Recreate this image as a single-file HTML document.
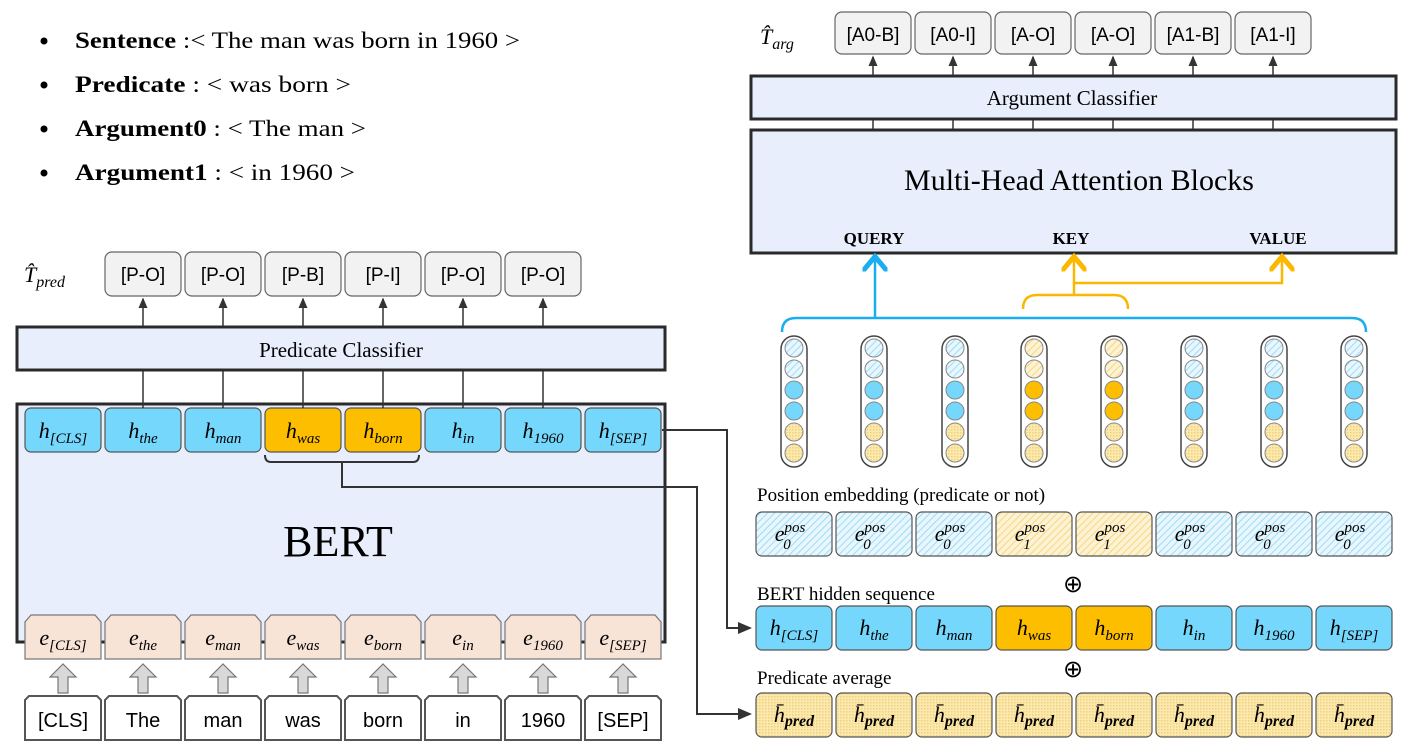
<!DOCTYPE html>
<html><head><meta charset="utf-8"><style>
html,body{margin:0;padding:0;background:#fff;}
svg{display:block;font-family:"Liberation Serif",serif;}
.ital{font-style:italic;}
</style></head><body>
<svg id="s" width="1416" height="751" viewBox="0 0 1416 751" xmlns="http://www.w3.org/2000/svg">
<defs>
<pattern id="hb" width="5" height="5" patternUnits="userSpaceOnUse" patternTransform="rotate(45)"><rect width="5" height="5" fill="#e8f6fd"/><line x1="0" y1="0" x2="0" y2="5" stroke="#9fdcf5" stroke-width="2"/></pattern>
<pattern id="hy" width="5" height="5" patternUnits="userSpaceOnUse" patternTransform="rotate(45)"><rect width="5" height="5" fill="#fdf3d4"/><line x1="0" y1="0" x2="0" y2="5" stroke="#f5d77e" stroke-width="2"/></pattern>
<pattern id="dy" width="3" height="3" patternUnits="userSpaceOnUse"><rect width="3" height="3" fill="#fbe9b0"/><rect width="1.5" height="1.5" fill="#f1d17a"/></pattern>
<marker id="ak" markerWidth="8" markerHeight="8" refX="6" refY="4" orient="auto"><path d="M0,1 L7,4 L0,7 z" fill="#333"/></marker>
<marker id="ab" markerWidth="10" markerHeight="10" refX="5" refY="5" orient="auto"><path d="M0,0 L6,5 L0,10" fill="none" stroke="#1aaef0" stroke-width="2"/></marker>
<marker id="ay" markerWidth="10" markerHeight="10" refX="5" refY="5" orient="auto"><path d="M0,0 L6,5 L0,10" fill="none" stroke="#fbb800" stroke-width="2"/></marker>
</defs>

<g font-size="23">
<circle cx="44" cy="41" r="3.5" fill="#000"/><text x="75" y="48" textLength="445" lengthAdjust="spacingAndGlyphs"><tspan font-weight="bold">Sentence</tspan> :&lt; The man was born in 1960 &gt;</text>
<circle cx="44" cy="85" r="3.5" fill="#000"/><text x="75" y="92" textLength="276" lengthAdjust="spacingAndGlyphs"><tspan font-weight="bold">Predicate</tspan> : &lt; was born &gt;</text>
<circle cx="44" cy="129" r="3.5" fill="#000"/><text x="75" y="136" textLength="291" lengthAdjust="spacingAndGlyphs"><tspan font-weight="bold">Argument0</tspan> : &lt; The man &gt;</text>
<circle cx="44" cy="173" r="3.5" fill="#000"/><text x="75" y="180" textLength="280" lengthAdjust="spacingAndGlyphs"><tspan font-weight="bold">Argument1</tspan> : &lt; in 1960 &gt;</text>
</g>

<!-- Left side -->
<text x="24" y="282" font-size="22" class="ital">T̂<tspan font-size="16" dy="5">pred</tspan></text>
<rect x="17" y="327" width="648" height="43" fill="#e8eefb" stroke="#2a2a2a" stroke-width="3"/>
<text x="341" y="357" font-size="21" text-anchor="middle">Predicate Classifier</text>
<rect x="17" y="404" width="648" height="238" fill="#e8eefb" stroke="#2a2a2a" stroke-width="3"/>
<text x="338" y="556" font-size="44" text-anchor="middle">BERT</text>
<g id="left"></g>
<path d="M265,455 q0,7 6,7 L413,462 q6,0 6,-7" fill="none" stroke="#333" stroke-width="2"/>
<path d="M342,462 L342,487 L697,487 L697,714 L750,714" fill="none" stroke="#333" stroke-width="2" marker-end="url(#ak)"/>
<path d="M662,430 L727,430 L727,628 L750,628" fill="none" stroke="#333" stroke-width="2" marker-end="url(#ak)"/>

<!-- Right side -->
<text x="760" y="44" font-size="22" class="ital">T̂<tspan font-size="16" dy="5">arg</tspan></text>
<rect x="751" y="76" width="645" height="43" fill="#e8eefb" stroke="#2a2a2a" stroke-width="3"/>
<text x="1072" y="105" font-size="21" text-anchor="middle">Argument Classifier</text>
<rect x="751" y="130" width="645" height="123" fill="#e8eefb" stroke="#2a2a2a" stroke-width="3"/>
<text x="1079" y="190" font-size="30" text-anchor="middle">Multi-Head Attention Blocks</text>
<text x="874" y="244" font-size="17" font-weight="bold" text-anchor="middle">QUERY</text>
<text x="1071" y="244" font-size="17" font-weight="bold" text-anchor="middle">KEY</text>
<text x="1278" y="244" font-size="17" font-weight="bold" text-anchor="middle">VALUE</text>
<path d="M782,332 q0,-14 14,-14 L1352,318 q14,0 14,14" fill="none" stroke="#1aaef0" stroke-width="2.5"/>
<path d="M875,318 L875,259" fill="none" stroke="#1aaef0" stroke-width="2.5" marker-end="url(#ab)"/>
<path d="M1023,309 q0,-14 14,-14 L1114,295 q14,0 14,14" fill="none" stroke="#fbb800" stroke-width="2.5"/>
<path d="M1074,295 L1074,259" fill="none" stroke="#fbb800" stroke-width="2.5" marker-end="url(#ay)"/>
<path d="M1074,283 L1282,283 L1282,259" fill="none" stroke="#fbb800" stroke-width="2.5" marker-end="url(#ay)"/>
<text x="757" y="501" font-size="19">Position embedding (predicate or not)</text>
<text x="757" y="600" font-size="19">BERT hidden sequence</text>
<text x="757" y="684" font-size="19">Predicate average</text>
<text x="1073" y="592" font-size="24" text-anchor="middle">⊕</text>
<text x="1073" y="677" font-size="24" text-anchor="middle">⊕</text>
<g id="right"></g>
</svg>
<script>
const tokens=["[CLS]","The","man","was","born","in","1960","[SEP]"];
const hSubs=["[CLS]","the","man","was","born","in","1960","[SEP]"];
const predTags=["[P-O]","[P-O]","[P-B]","[P-I]","[P-O]","[P-O]"];
const argTags=["[A0-B]","[A0-I]","[A-O]","[A-O]","[A1-B]","[A1-I]"];
const isPred=[0,0,0,1,1,0,0,0];
const NS="http://www.w3.org/2000/svg";
function mk(p,t,a){const e=document.createElementNS(NS,t);for(const k in a)e.setAttribute(k,a[k]);p.appendChild(e);return e;}
function sub(p,x,y,base,s,sup,fs){
  const t=mk(p,'text',{x:x,y:y,'font-size':fs||22,'text-anchor':'middle','font-style':'italic'});
  t.appendChild(document.createTextNode(base));
  if(sup){const u=mk(t,'tspan',{'font-size':15,dy:-9});u.textContent=sup;const v=mk(t,'tspan',{'font-size':15,dx:-22,dy:17});v.textContent=s;}
  else{const u=mk(t,'tspan',{'font-size':15,dy:5});u.textContent=s;}
  return t;
}
const L=document.getElementById('left'),R=document.getElementById('right');
const lx=i=>25+80*i, rx=i=>756+80*i;
tokens.forEach((tok,i)=>{
  const x=lx(i),cx=x+38;
  let g=mk(L,'g',{});
  
  
  mk(g,'path',{d:`M${x},${740} L${x},${700} l4,-4 L${x+72},696 l4,4 L${x+76},740 z`,fill:'#fff',stroke:'#555','stroke-width':2});
  const t=mk(g,'text',{x:cx,y:727,'font-size':20,'text-anchor':'middle','font-family':'Liberation Sans, sans-serif'});t.textContent=tok;
  const a=mk(L,'path',{d:`M${cx-5},693 L${cx-5},677 L${cx-13},677 L${cx},664 L${cx+13},677 L${cx+5},677 L${cx+5},693 z`,fill:'#d8d8d8',stroke:'#777','stroke-width':1.2});
  
  
  let e=mk(L,'path',{d:`M${x},659 L${x},622 l6,-7 L${x+70},615 l6,7 L${x+76},659 z`,fill:'#f8e4d6',stroke:'#777','stroke-width':1.2});
  
  
  sub(L,cx,645,'e',hSubs[i]);
  let h=mk(L,'rect',{x:x,y:408,width:76,height:44,rx:6,fill:isPred[i]?'#fdbe00':'#75d7fb',stroke:'#555','stroke-width':1.2});
  
  
  sub(L,cx,438,'h',hSubs[i]);
  const X=rx(i),CX=X+38;
  let pe=mk(R,'rect',{x:X,y:512,width:76,height:44,rx:6,fill:isPred[i]?'url(#hy)':'url(#hb)',stroke:'#555','stroke-width':1.2});
  
  
  sub(R,CX-4,541,'e',isPred[i]?'1':'0','pos');
  let hs=mk(R,'rect',{x:X,y:606,width:76,height:44,rx:6,fill:isPred[i]?'#fdbe00':'#75d7fb',stroke:'#555','stroke-width':1.2});
  
  
  sub(R,CX,635,'h',hSubs[i]);
  let pa=mk(R,'rect',{x:X,y:693,width:76,height:44,rx:6,fill:'url(#dy)',stroke:'#555','stroke-width':1.2});
  
  
  const pt=mk(R,'text',{x:CX,y:722,'font-size':22,'text-anchor':'middle','font-style':'italic'});
  pt.appendChild(document.createTextNode('h̄'));
  const ps=mk(pt,'tspan',{'font-size':16,'font-weight':'bold',dy:4});ps.textContent='pred';
  const vx=[794,874,955,1034,1114,1194,1274,1354][i];
  const vg=mk(R,'g',{});
  
  
  mk(vg,'rect',{x:vx-13,y:336,width:26,height:131,rx:13,fill:'#fff',stroke:'#444','stroke-width':1.5});
  for(let k=0;k<6;k++){
    let f;
    if(k<2) f=isPred[i]?'url(#hy)':'url(#hb)';
    else if(k<4) f=isPred[i]?'#fdbe00':'#75d7fb';
    else f='url(#dy)';
    mk(vg,'circle',{cx:vx,cy:348+21*k,r:9,fill:f,stroke:'#888','stroke-width':1});
  }
});
predTags.forEach((tg,j)=>{
  const i=j+1,x=lx(i),cx=x+38;
  const b=mk(L,'rect',{x:x,y:252,width:76,height:44,rx:7,fill:'#f2f2f2',stroke:'#666','stroke-width':1.2});
  
  
  const t=mk(L,'text',{x:cx,y:281,'font-size':19,'text-anchor':'middle','font-family':'Liberation Sans, sans-serif'});t.textContent=tg;
  mk(L,'line',{x1:cx,y1:326,x2:cx,y2:299,stroke:'#333','stroke-width':1.5,'marker-end':'url(#ak)'});
  mk(L,'line',{x1:cx,y1:371,x2:cx,y2:408,stroke:'#333','stroke-width':1.5});
});
argTags.forEach((tg,j)=>{
  const x=835+80*j,cx=x+38;
  const b=mk(R,'rect',{x:x,y:12,width:76,height:42,rx:7,fill:'#f2f2f2',stroke:'#666','stroke-width':1.2});
  
  
  const t=mk(R,'text',{x:cx,y:41,'font-size':19,'text-anchor':'middle','font-family':'Liberation Sans, sans-serif'});t.textContent=tg;
  mk(R,'line',{x1:cx,y1:75,x2:cx,y2:57,stroke:'#333','stroke-width':1.5,'marker-end':'url(#ak)'});
  mk(R,'line',{x1:cx,y1:120,x2:cx,y2:129,stroke:'#333','stroke-width':1.5});
});
</script>
</body></html>
